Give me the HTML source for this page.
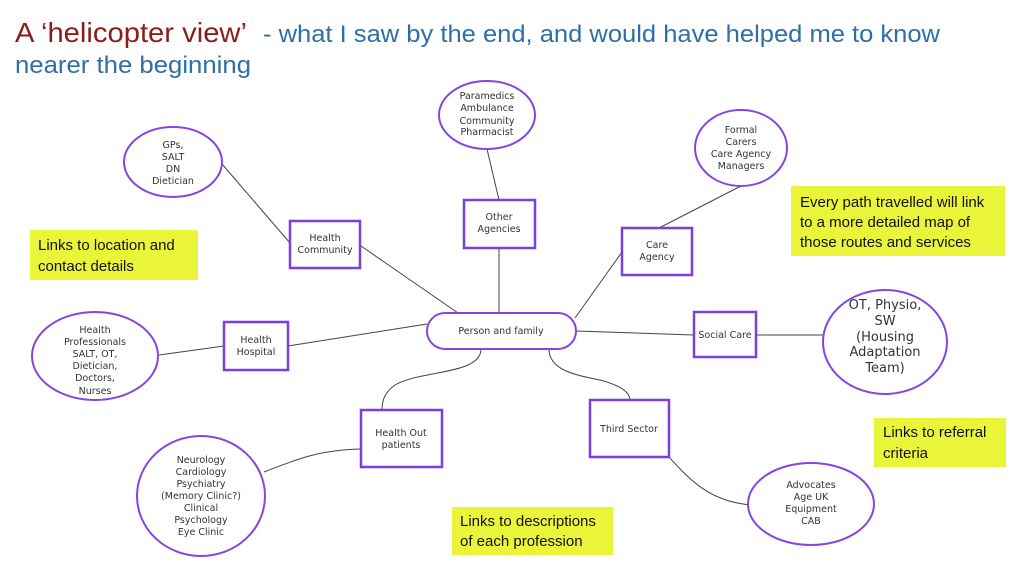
<!DOCTYPE html>
<html><head><meta charset="utf-8"><style>
html,body{margin:0;padding:0;background:#fff;}
body{width:1024px;height:584px;overflow:hidden;position:relative;}
svg{position:absolute;left:0;top:0;}
.n{font-family:"DejaVu Sans","Liberation Sans",sans-serif;font-size:9.5px;fill:#333;text-anchor:middle;}
.y{font-family:"Liberation Sans",sans-serif;font-size:15px;fill:#111;}
.s{fill:#fff;stroke:#7a3fe0;stroke-width:2.5;}
.e{fill:#fff;stroke:#8445e0;stroke-width:2;}
.l{stroke:#444;stroke-width:1;fill:none;}
</style></head><body>
<svg width="1024" height="584" viewBox="0 0 1024 584">
<text x="15" y="42" font-family="Liberation Sans,sans-serif" font-size="28" fill="#8a1c1c" textLength="232" lengthAdjust="spacingAndGlyphs">A ‘helicopter view’</text>
<text x="263" y="42" font-family="Liberation Sans,sans-serif" font-size="24" fill="#2e6fa6" textLength="677" lengthAdjust="spacingAndGlyphs">- what I saw by the end, and would have helped me to know</text>
<text x="15" y="73" font-family="Liberation Sans,sans-serif" font-size="24" fill="#2e6fa6" textLength="236" lengthAdjust="spacingAndGlyphs">nearer the beginning</text>

<line class="l" x1="222" y1="164" x2="290" y2="243"/>
<line class="l" x1="361" y1="246" x2="458" y2="313"/>
<line class="l" x1="487" y1="149" x2="499" y2="200"/>
<line class="l" x1="499" y1="248" x2="499" y2="313"/>
<line class="l" x1="741" y1="186" x2="659" y2="228"/>
<line class="l" x1="622" y1="252" x2="575" y2="318"/>
<path class="l" d="M576 331 Q630 333 694 335"/>
<line class="l" x1="756" y1="335" x2="826" y2="335"/>
<line class="l" x1="427" y1="324" x2="288" y2="346"/>
<line class="l" x1="224" y1="346" x2="159" y2="355"/>
<path class="l" d="M481 349 C481 375 420 370 395 385 C385 392 382 400 382 410"/>
<path class="l" d="M549 349 C549 370 575 375 600 380 C615 384 630 390 630 400"/>
<path class="l" d="M361 449 C320 450 300 458 264 472"/>
<path class="l" d="M669 457 C690 480 710 502 752 505"/>

<ellipse class="e" cx="173" cy="162" rx="49" ry="35"/>
<text class="n" x="173" y="148">GPs,</text><text class="n" x="173" y="160">SALT</text><text class="n" x="173" y="172">DN</text><text class="n" x="173" y="184">Dietician</text>
<ellipse class="e" cx="487" cy="115" rx="48" ry="34"/>
<text class="n" x="487" y="99">Paramedics</text><text class="n" x="487" y="111">Ambulance</text><text class="n" x="487" y="124">Community</text><text class="n" x="487" y="135">Pharmacist</text>
<ellipse class="e" cx="741" cy="148" rx="46" ry="38"/>
<text class="n" x="741" y="133">Formal</text><text class="n" x="741" y="145">Carers</text><text class="n" x="741" y="157">Care Agency</text><text class="n" x="741" y="169">Managers</text>
<ellipse class="e" cx="95" cy="356" rx="63" ry="44"/>
<text class="n" x="95" y="333">Health</text><text class="n" x="95" y="345">Professionals</text><text class="n" x="95" y="357">SALT, OT,</text><text class="n" x="95" y="369">Dietician,</text><text class="n" x="95" y="381">Doctors,</text><text class="n" x="95" y="394">Nurses</text>
<ellipse class="e" cx="885" cy="342" rx="62" ry="52"/>
<g font-family="DejaVu Sans,Liberation Sans,sans-serif" font-size="13" fill="#333" text-anchor="middle">
<text x="885" y="309">OT, Physio,</text><text x="885" y="325">SW</text><text x="885" y="341">(Housing</text><text x="885" y="356">Adaptation</text><text x="885" y="372">Team)</text></g>
<ellipse class="e" cx="201" cy="496" rx="64" ry="60"/>
<text class="n" x="201" y="463">Neurology</text><text class="n" x="201" y="475">Cardiology</text><text class="n" x="201" y="487">Psychiatry</text><text class="n" x="201" y="499">(Memory Clinic?)</text><text class="n" x="201" y="511">Clinical</text><text class="n" x="201" y="523">Psychology</text><text class="n" x="201" y="535">Eye Clinic</text>
<ellipse class="e" cx="811" cy="504" rx="63" ry="41"/>
<text class="n" x="811" y="488">Advocates</text><text class="n" x="811" y="500">Age UK</text><text class="n" x="811" y="512">Equipment</text><text class="n" x="811" y="524">CAB</text>

<rect class="s" x="290" y="221" width="70" height="47"/>
<text class="n" x="325" y="241">Health</text><text class="n" x="325" y="253">Community</text>
<rect class="s" x="464" y="200" width="71" height="48"/>
<text class="n" x="499" y="220">Other</text><text class="n" x="499" y="232">Agencies</text>
<rect class="s" x="622" y="228" width="70" height="47"/>
<text class="n" x="657" y="248">Care</text><text class="n" x="657" y="260">Agency</text>
<rect class="s" x="224" y="322" width="64" height="48"/>
<text class="n" x="256" y="343">Health</text><text class="n" x="256" y="355">Hospital</text>
<rect class="s" x="694" y="312" width="62" height="45"/>
<text class="n" x="725" y="338">Social Care</text>
<rect class="s" x="590" y="400" width="79" height="57"/>
<text class="n" x="629" y="432">Third Sector</text>
<rect class="s" x="361" y="410" width="81" height="57"/>
<text class="n" x="401" y="436">Health Out</text><text class="n" x="401" y="448">patients</text>
<rect class="e" x="427" y="313" width="149" height="36" rx="18"/>
<text class="n" x="501" y="334">Person and family</text>

<rect x="791" y="186" width="214" height="70" fill="#eaf53a"/>
<text class="y" x="800" y="207">Every path travelled will link</text>
<text class="y" x="800" y="227">to a more detailed map of</text>
<text class="y" x="800" y="247">those routes and services</text>
<rect x="30" y="230" width="168" height="50" fill="#eaf53a"/>
<text class="y" x="38" y="250">Links to location and</text>
<text class="y" x="38" y="271">contact details</text>
<rect x="874" y="418" width="132" height="49" fill="#eaf53a"/>
<text class="y" x="883" y="437">Links to referral</text>
<text class="y" x="883" y="458">criteria</text>
<rect x="452" y="507" width="161" height="48" fill="#eaf53a"/>
<text class="y" x="460" y="526">Links to descriptions</text>
<text class="y" x="460" y="546">of each profession</text>
</svg>
</body></html>
